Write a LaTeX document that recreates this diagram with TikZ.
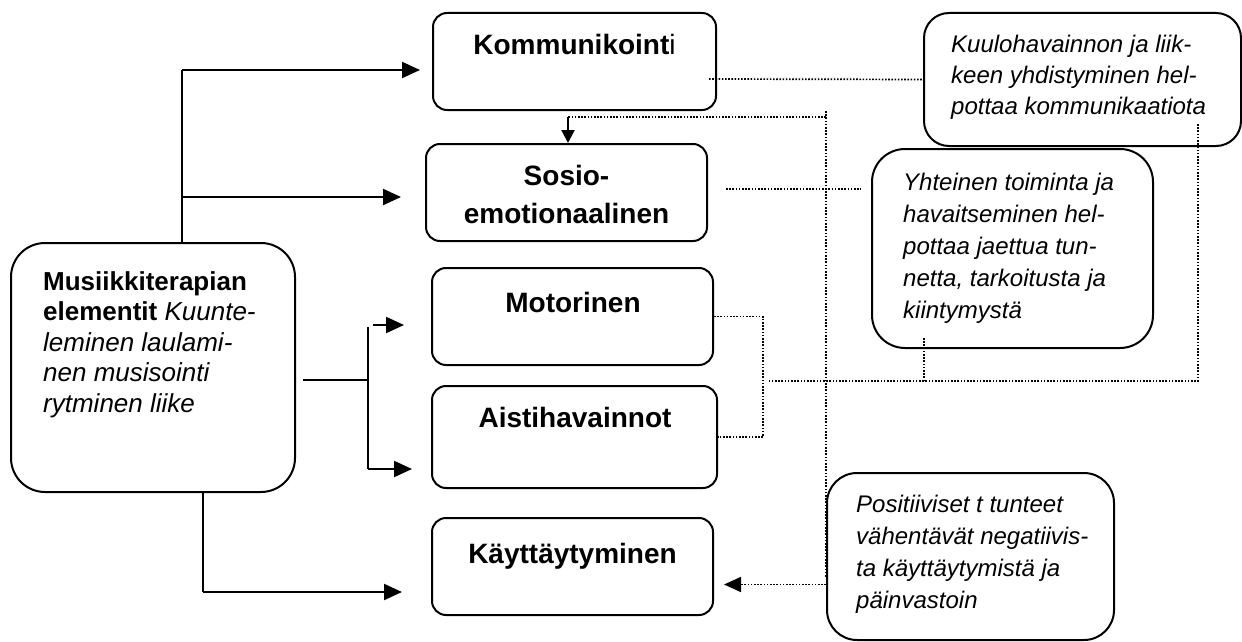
\documentclass[tikz,border=0pt]{standalone}
\usepackage{fontspec}
\setmainfont{Liberation Sans}
\usetikzlibrary{arrows.meta}
\tikzset{
  box/.style={draw, line width=2pt, rounded corners=14pt, inner sep=0pt},
  cattxt/.style={font=\fontsize{28}{38}\selectfont\bfseries, inner sep=0pt},
  notetxt/.style={font=\fontsize{24}{32}\selectfont\itshape, inner sep=0pt, align=left, anchor=north west},
  line/.style={line width=2.2pt},
  arr/.style={line width=2.2pt, -{Triangle[length=18pt,width=16pt]}},
  sarr/.style={line width=2.2pt, -{Triangle[length=13pt,width=13pt]}},
  dot/.style={line width=1.7pt, dash pattern=on 1.6pt off 1.6pt},
  dotarr/.style={line width=1.7pt, dash pattern=on 1.6pt off 1.6pt, -{Triangle[length=17pt,width=15pt]}}
}
\begin{document}
\begin{tikzpicture}[x=1pt,y=-1pt]
\useasboundingbox (0,0) rectangle (1242,642);
% category boxes
\node[box, minimum width=283pt, minimum height=97pt] (kom) at (574.5,61.5) {};
\node[box, minimum width=281pt, minimum height=97pt] (sos) at (566.5,192.5) {};
\node[box, minimum width=281pt, minimum height=97pt] (mot) at (572.5,316.5) {};
\node[box, minimum width=285pt, minimum height=102pt] (ais) at (574.5,437) {};
\node[box, minimum width=281pt, minimum height=97pt] (kay) at (572.5,566.5) {};
% left box
\node[box, rounded corners=34pt, minimum width=284pt, minimum height=249pt] (mus) at (153,367.5) {};
% note boxes
\node[box, rounded corners=25pt, minimum width=317pt, minimum height=133pt] (r1) at (1082.5,79.5) {};
\node[box, rounded corners=33pt, minimum width=281pt, minimum height=199pt] (r2) at (1012.5,248.5) {};
\node[box, rounded corners=30pt, minimum width=287pt, minimum height=167pt] (r3) at (970.5,556.5) {};
% texts
\node[cattxt, anchor=base] (komt) at (574.5,55) {Kommunikoint\mdseries i};
\node[cattxt, anchor=north, align=center] (sost) at (566.5,158.4) {\strut Sosio-\\emotionaalinen};
\node[cattxt, anchor=base] (mott) at (573,312) {Motorinen};
\node[cattxt, anchor=base] (aist) at (575,427) {Aistihavainnot};
\node[cattxt, anchor=base] (kayt) at (572.5,563) {Käyttäytyminen};
\node[font=\fontsize{26}{30.5}\selectfont, inner sep=0pt, align=left, anchor=north west] (must) at (43,268.6)
  {\strut\textbf{Musiikkiterapian}\\\textbf{elementit} \textit{Kuunte-}\\\textit{leminen laulami-}\\\textit{nen musisointi}\\\textit{rytminen liike}};
\node[notetxt, font=\fontsize{24}{31}\selectfont\itshape] (r1t) at (951,30.3)
  {\strut Kuulohavainnon ja liik-\\keen yhdistyminen hel-\\pottaa kommunikaatiota};
\node[notetxt] (r2t) at (903,167.6)
  {\strut Yhteinen toiminta ja\\havaitseminen hel-\\pottaa jaettua tun-\\netta, tarkoitusta ja\\kiintymystä};
\node[notetxt, font=\fontsize{24}{31.7}\selectfont\itshape] (r3t) at (856,490.6)
  {\strut Positiiviset t tunteet\\vähentävät negatiivis-\\ta käyttäytymistä ja\\päinvastoin};
% solid connectors
\coordinate (t1) at (182,70);
\coordinate (t2) at (182,197);
\draw[line] ([xshift=29pt]mus.north) -- (t1);
\draw[arr, shorten >=12pt] (t1) -- (t1 -| kom.west);
\draw[arr, shorten >=24pt] (t2) -- (t2 -| sos.west);
\coordinate (b1) at (368,380);
\coordinate (b2) at (373,325);
\coordinate (b3) at (368,469);
\coordinate (b4) at (368,327);
\draw[line] ([xshift=7pt,yshift=-12.5pt]mus.east) -- (b1);
\draw[line] (b4) -- (b3);
\draw[arr, shorten >=27pt] (b2) -- (b2 -| mot.west);
\draw[arr, shorten >=19pt] (b3) -- (b3 -| ais.west);
\coordinate (c1) at (203,592);
\draw[line] ([xshift=50pt]mus.south) -- (c1);
\draw[arr, shorten >=29pt] (c1) -- (c1 -| kay.west);
% dotted connectors
\draw[dot] ([xshift=-8pt,yshift=-17.5pt]kom.east) -- (r1.west);
\draw[dot, shorten <=18pt, shorten >=10pt] ([yshift=3.5pt]sos.east) -- ([yshift=3.5pt]sos.east -| r2.west);
\coordinate (h1) at (768,381);
\draw[dot] ([xshift=115.5pt,yshift=23pt]r1.south) |- (h1);
\draw[dot] ([xshift=-88.5pt,yshift=11pt]r2.south) -- ([xshift=-88.5pt]r2.south |- h1);
\coordinate (br) at (763,437);
\draw[dot] (mot.east) -| (br) -- (ais.east);
\coordinate (e1) at (826,110);
\coordinate (e2) at (826,117);
\coordinate (e3) at (568,117);
\draw[dot] ([yshift=-20pt]r3.west) -- (e1);
\draw[dot] (e2) -- (e3);
\draw[sarr] (e3) -- (e3 |- sos.north);
\draw[dotarr, shorten >=10pt] ([yshift=-28pt]r3.west) -- ([yshift=-28pt]r3.west -| kay.east);
\end{tikzpicture}
\end{document}
